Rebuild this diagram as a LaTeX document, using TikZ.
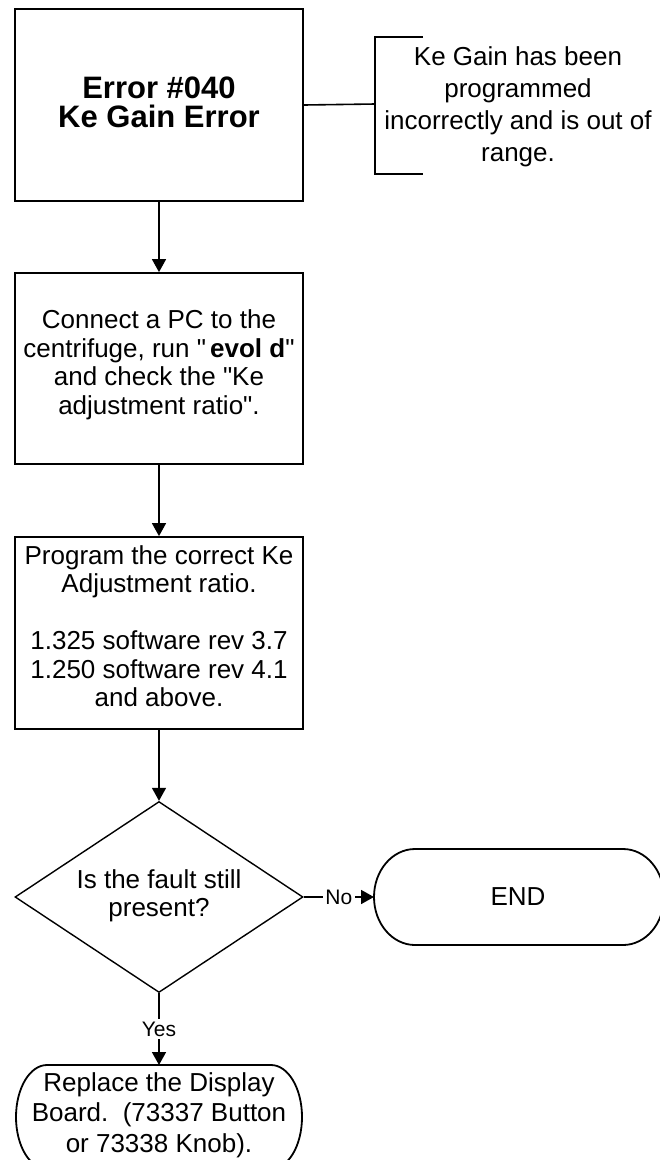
\documentclass[tikz,border=0pt]{standalone}
\usepackage{fontspec}
\setmainfont{Liberation Sans}
\usetikzlibrary{arrows.meta,shapes.geometric}
\newcommand{\sq}{\XeTeXglyph\XeTeXcharglyph"0022\relax}
\begin{document}
\begin{tikzpicture}[x=1pt,y=1pt,
  boxn/.style={draw,line width=1.8pt,minimum width=288pt,minimum height=#1,inner sep=0pt},
  ghost/.style={minimum width=288pt,minimum height=#1,inner sep=0pt,outer sep=0pt},
  txt/.style={align=center,inner sep=0pt,font=\fontsize{26}{28.5}\selectfont},
  conn/.style={line width=1.6pt},
  arr/.style={conn,-{Triangle[length=13pt,width=14pt]}},
  outline/.style={line width=1.8pt,line join=round},
  lbl/.style={fill=white,inner sep=2.5pt,font=\fontsize{21}{23}\selectfont}]
\useasboundingbox (0,0) rectangle (660,-1160);
\fill[white] (0,0) rectangle (660,-1160);

% boxes
\node[boxn=192pt] (b1) at (159,-105) {};
\node[txt,font=\fontsize{31}{29.5}\selectfont\bfseries] (t1) at (159,-102.5) {Error \#040\\Ke Gain Error};

\node[boxn=191pt] (b2) at (159,-368.5) {};
\node[txt] (t2) at (159,-365) {Connect a PC to the\\centrifuge, run \sq\hspace{4pt}\textbf{evol d}\sq\\and check the \sq Ke\\adjustment ratio\sq.};

\node[boxn=192pt] (b3) at (159,-633) {};
\node[txt] (t3) at (159,-626) {Program the correct Ke\\Adjustment ratio.\\[28.4pt]1.325 software rev 3.7\\1.250 software rev 4.1\\and above.};

% decision
\node[draw,shape=diamond,line width=1.4pt,minimum width=288pt,minimum height=191pt,inner sep=0pt] (dec) at (159,-897) {};
\node[txt,font=\fontsize{26}{28}\selectfont] (dect) at (159,-896) {Is the fault still\\present?};

% END terminator
\node[ghost=96pt] (endn) at (518,-897) {};
\draw[outline] (415,-849) -- (623,-849) arc[start angle=90,end angle=-90,x radius=41,y radius=48]
  -- (415,-945) arc[start angle=270,end angle=90,x radius=41,y radius=48] -- cycle;
\node[txt] (endt) at (518,-897) {END};

% Replace terminator
\node[ghost=104pt] (rep) at (159,-1117) {};
\draw[outline] (47,-1065) -- (271,-1065) arc[start angle=90,end angle=-90,x radius=31,y radius=52]
  -- (47,-1169) arc[start angle=270,end angle=90,x radius=31,y radius=52] -- cycle;
\node[txt,font=\fontsize{26}{30.5}\selectfont] (rept) at (159,-1115) {Replace the Display\\Board.\ \ (73337 Button\\or 73338 Knob).};

% annotation
\coordinate (brk) at (375,-104);
\draw[line width=1.8pt] (423,-37) -- (375,-37) -- (375,-174) -- (423,-174);
\node[txt,font=\fontsize{26}{32}\selectfont] (ann) at (518,-107) {Ke Gain has been\\programmed\\incorrectly and is out of\\range.};

% connectors
\draw[conn] (b1.east) -- (brk);
\draw[arr] (b1.south) -- (b2.north);
\draw[arr] (b2.south) -- (b3.north);
\draw[arr] (b3.south) -- (dec.north);
\draw[arr] (dec.east) -- (endn.west) node[lbl,midway] {No};
\draw[arr] (dec.south) -- (rep.north) node[lbl,midway] {Yes};
\end{tikzpicture}
\end{document}
